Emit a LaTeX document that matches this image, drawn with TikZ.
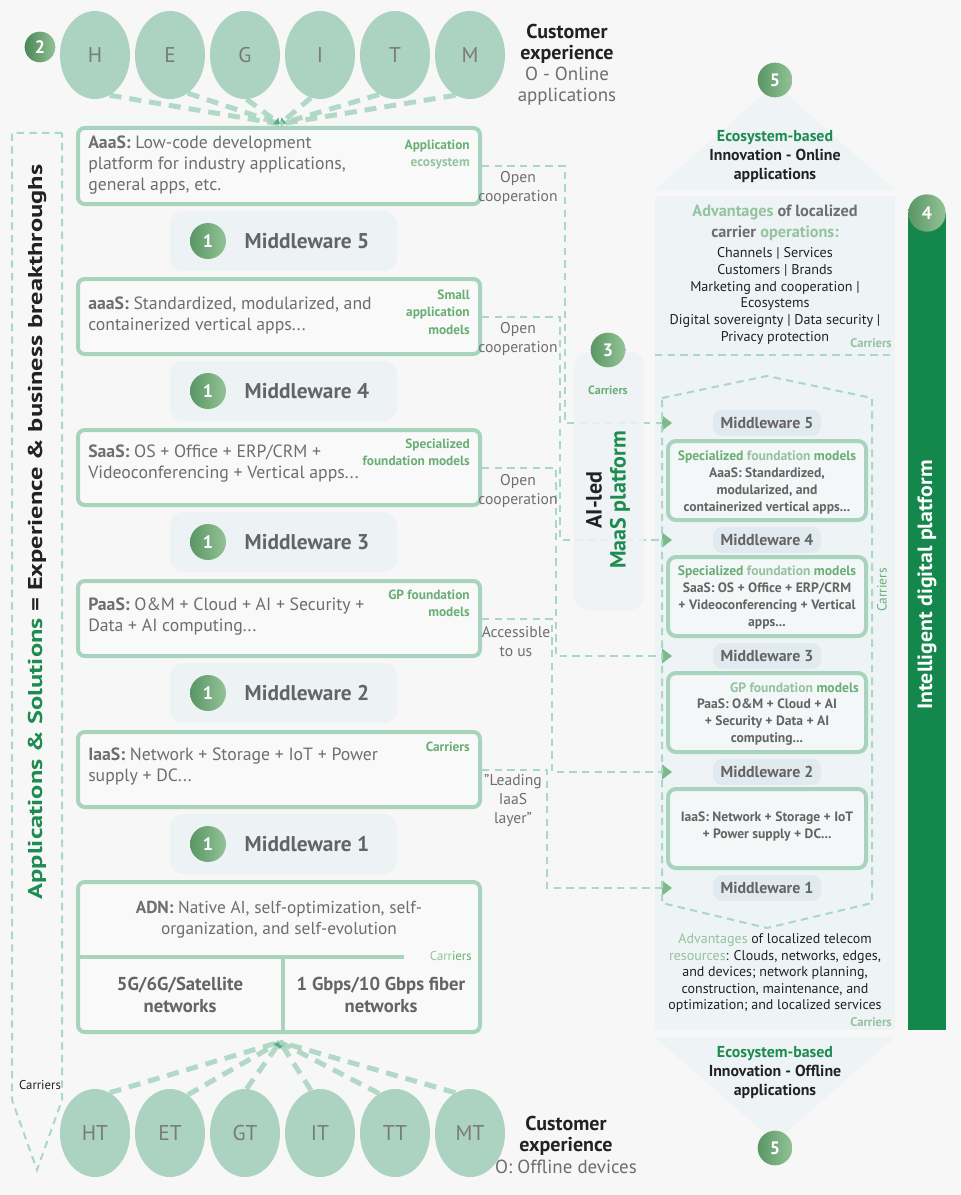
\documentclass[tikz,border=0pt]{standalone}
\usepackage{fontspec}
\setmainfont{PT Sans}
\usetikzlibrary{fit,arrows.meta,shapes.geometric,calc}
\definecolor{bgc}{HTML}{F7F7F7}
\definecolor{boxg}{HTML}{A8D4BE}
\definecolor{boxf}{HTML}{F9F9F9}
\definecolor{rboxf}{HTML}{F4F7F8}
\definecolor{circg}{HTML}{ACD3C1}
\definecolor{lettc}{HTML}{7A7A7A}
\definecolor{dashc}{HTML}{A9D8C3}
\definecolor{fanc}{HTML}{A6D4BF}
\definecolor{fand}{HTML}{4FA77A}
\definecolor{mwbg}{HTML}{EDF3F5}
\definecolor{panel}{HTML}{EEF3F6}
\definecolor{rmwbg}{HTML}{E1EAEE}
\definecolor{numA}{HTML}{93C397}
\definecolor{numB}{HTML}{5A9664}
\definecolor{numC}{HTML}{4A8656}
\definecolor{tgray}{HTML}{6E6E6E}
\definecolor{tbold}{HTML}{646464}
\definecolor{gA}{HTML}{6AAE75}
\definecolor{gB}{HTML}{94C39E}
\definecolor{brg}{HTML}{1E8C50}
\definecolor{barg}{HTML}{14874D}
\definecolor{arrg}{HTML}{7DB98A}
\definecolor{ink}{HTML}{222222}
\begin{document}
\begin{tikzpicture}[x=0.75pt,y=-0.75pt,
 lbox/.style={draw=boxg, line width=3pt, rounded corners=5pt, fill=boxf, inner sep=0pt},
 rbox/.style={draw=boxg, line width=3pt, rounded corners=6pt, fill=rboxf, inner sep=0pt},
 mwbox/.style={fill=mwbg, rounded corners=10pt, inner sep=0pt},
 numc/.style={circle, inner sep=0pt, minimum size=26pt, left color=numB, right color=numA, text=white, font=\bfseries\fontsize{13.5}{16}\selectfont},
 lett/.style={ellipse, fill=circg, minimum width=52.5pt, minimum height=66pt, inner sep=0pt, text=lettc, font=\fontsize{16}{18}\selectfont},
 mwtxt/.style={text=tbold, font=\bfseries\fontsize{16}{18}\selectfont, inner sep=0pt},
 rmw/.style={fill=rmwbg, rounded corners=7pt, minimum width=81pt, minimum height=19.5pt, inner sep=0pt, text=tbold, font=\bfseries\fontsize{11.9}{13}\selectfont},
 ltxt/.style={anchor=north west, inner sep=0pt, align=left, text=tgray, font=\fontsize{13.3}{15.75}\selectfont},
 glab/.style={anchor=north east, inner sep=0pt, align=right, text=gA, font=\bfseries\fontsize{10}{12.9}\selectfont},
 rtxt/.style={inner sep=0pt, align=center, text=tbold, font=\bfseries\fontsize{10.2}{12.75}\selectfont},
 clab/.style={inner sep=0pt, align=center, text=tgray, font=\fontsize{11.7}{14.25}\selectfont},
 dsh/.style={draw=dashc, line width=1.5pt, dash pattern=on 5.5pt off 4pt},
 conn/.style={dsh, -{Triangle[length=7.5pt,width=11pt,color=arrg]}},
 fan/.style={draw=fanc, line width=3.75pt, dash pattern=on 9pt off 6pt, opacity=0.85},
 fantip/.style={fan, -{Triangle[length=4pt,width=6pt,color=fand]}},
 small/.style={inner sep=0pt, font=\fontsize{9.6}{11}\selectfont}
]
\fill[bgc] (0,0) rectangle (960,1195);
\useasboundingbox (0,0) rectangle (960,1195);

% ---------- right panel backgrounds
\fill[panel] (655,190) -- (775,84) -- (895,190) -- cycle;
\fill[panel] (655,196) rectangle (895,1030);
\fill[panel] (655,1037) -- (895,1037) -- (775,1142) -- cycle;

% ---------- top customer circles
\node[numc, left color=numC, right color=numA, minimum size=23pt] (two) at (40,47) {2};
\node[lett] (H) at (95,55) {H};
\node[lett] (E) at (170,55) {E};
\node[lett] (G) at (245,55) {G};
\node[lett] (I) at (320,55) {I};
\node[lett] (T) at (395,55) {T};
\node[lett] (M) at (470,55) {M};
\node[inner sep=0pt, align=center, font=\bfseries\fontsize{15}{15.75}\selectfont, text=ink] (cexp1) at (567,44) {Customer\\experience};
\node[inner sep=0pt, align=center, font=\fontsize{14.2}{16.25}\selectfont, text=tgray] (onl) at (567,86) {O - Online\\applications};
\coordinate (ftop) at (280,124);
\draw[fan] (H.290) -- (ftop);
\draw[fan] (E.295) -- (ftop);
\draw[fantip] (G.272) -- (ftop);
\draw[fantip] (I.258) -- (ftop);
\draw[fan] (T.248) -- (ftop);
\draw[fan] (M.250) -- (ftop);

% ---------- left dashed arrow
\draw[dsh] (62,133) -- (12,133) -- (12,1100) -- (37,1170) -- (62,1100) -- cycle;
\node[rotate=90, inner sep=0pt, text=ink, font=\bfseries\fontsize{15}{17}\selectfont] (appsol) at (37,532)
 {\resizebox{551pt}{\height}{{\color{brg}Applications \& Solutions} = Experience \& business breakthroughs}};
\node[small, text=ink] (carL) at (40,1085) {Carriers};

% ---------- left stack
\node[lbox, fit={(78,128) (480,204)}] (aaas) {};
\node[ltxt] (aaast) at (88,136) {\textbf{AaaS:} Low-code development\\platform for industry applications,\\general apps, etc.};
\node[glab] (aaasl) at (470,140) {Application\\{\color{gB}ecosystem}};

\node[lbox, fit={(78,279) (480,354)}] (aaasb) {};
\node[ltxt] (aaasbt) at (88,297) {\textbf{aaaS:} Standardized, modularized, and\\containerized vertical apps...};
\node[glab] (aaasbl) at (470,290) {Small\\application\\models};

\node[lbox, fit={(78,430) (480,505)}] (saas) {};
\node[ltxt] (saast) at (88,445) {\textbf{SaaS:} OS + Office + ERP/CRM +\\Videoconferencing + Vertical apps...};
\node[glab] (saasl) at (470,439) {Specialized\\foundation models};

\node[lbox, fit={(78,581) (480,656)}] (paas) {};
\node[ltxt] (paast) at (88,598) {\textbf{PaaS:} O\&M + Cloud + AI + Security +\\Data + AI computing...};
\node[glab] (paasl) at (470,590) {GP foundation\\models};

\node[lbox, fit={(78,732) (480,807)}] (iaas) {};
\node[ltxt] (iaast) at (88,748) {\textbf{IaaS:} Network + Storage + IoT + Power\\supply + DC...};
\node[glab] (iaasl) at (470,742) {Carriers};

\foreach \n/\y in {5/241,4/391,3/542,2/693,1/844}{
  \node[mwbox, fit={(170,\y-30) (397,\y+30)}] (mw\n) {};
  \node[numc, minimum size=27pt] (one\n) at (208,\y) {1};
  \node[mwtxt] (mwt\n) at (307,\y) {Middleware \n};
}

% ADN box
\node[lbox, fit={(78,882) (480,1032)}] (adn) {};
\draw[draw=boxg, line width=3pt] (78,957) -- (404,957);
\draw[draw=boxg, line width=3pt] (283,957) -- (283,1032);
\node[inner sep=0pt, align=center, text=tgray, font=\fontsize{13}{15.75}\selectfont] (adnt) at (279,920) {\textbf{ADN:} Native AI, self-optimization, self-\\organization, and self-evolution};
\node[small, anchor=east, text=gA] (adnc) at (472,956) {{\color{gB}Carr}iers};
\node[inner sep=0pt, align=center, text=tbold, font=\bfseries\fontsize{14}{16.5}\selectfont] (net5g) at (180,995) {5G/6G/Satellite\\networks};
\node[inner sep=0pt, align=center, text=tbold, font=\bfseries\fontsize{14}{16.5}\selectfont] (netfb) at (381,995) {1 Gbps/10 Gbps fiber\\networks};

% ---------- bottom customer circles
\node[lett] (HT) at (95,1133) {HT};
\node[lett] (ET) at (170,1133) {ET};
\node[lett] (GT) at (245,1133) {GT};
\node[lett] (IT) at (320,1133) {IT};
\node[lett] (TT) at (395,1133) {TT};
\node[lett] (MT) at (470,1133) {MT};
\coordinate (fbot) at (280,1042);
\draw[fan] (HT.70) -- (fbot);
\draw[fan] (ET.65) -- (fbot);
\draw[fantip] (GT.88) -- (fbot);
\draw[fantip] (IT.102) -- (fbot);
\draw[fan] (TT.112) -- (fbot);
\draw[fan] (MT.110) -- (fbot);
\node[inner sep=0pt, align=center, font=\bfseries\fontsize{15}{15.5}\selectfont, text=ink] (cexp2) at (566,1136) {Customer\\experience};
\node[inner sep=0pt, font=\fontsize{14.2}{15.5}\selectfont, text=tgray] (offl) at (566,1167) {O: Offline devices};

% ---------- connectors to the right stack
\coordinate (k5) at (565,423); \coordinate (t5) at (672,423);
\coordinate (k4) at (560,540); \coordinate (t4) at (672,540);
\coordinate (k3) at (556,656); \coordinate (t3) at (672,656);
\coordinate (k2) at (552,772); \coordinate (t2) at (672,772);
\coordinate (k1) at (547,888); \coordinate (t1) at (672,888);
\draw[conn] (aaas.east) -| (k5) -- (t5);
\draw[conn] (aaasb.east) -| (k4) -- (t4);
\draw[conn] (saas.east) -| (k3) -- (t3);
\draw[conn] (paas.east) -| (k2) -- (t2);
\draw[conn] (iaas.east) -| (k1) -- (t1);
\node[clab] (oc1) at (518,188) {Open\\cooperation};
\node[clab] (oc2) at (518,339) {Open\\cooperation};
\node[clab] (oc3) at (518,491) {Open\\cooperation};
\node[clab] (acc) at (516,642) {Accessible\\to us};
\node[clab] (lead) at (513,801) {"Leading\\IaaS\\layer"};

% ---------- centre column
\fill[panel, opacity=0.85, rounded corners=10pt] (574,352) rectangle (644,610);
\node[numc] (three) at (608,350) {3};
\node[small, text=gA, font=\bfseries\fontsize{9}{10}\selectfont] (car3) at (608,390) {Carriers};
\node[rotate=90, inner sep=0pt, align=center, text=ink, font=\bfseries\fontsize{16.5}{18}\selectfont] (maas) at (608,500) {AI-led\\{\color{brg}MaaS platform}};

% ---------- right panel contents
\node[numc] (fiveT) at (775,80) {5};
\node[numc] (fiveB) at (775,1148) {5};
\node[inner sep=0pt, align=center, text=ink, font=\bfseries\fontsize{11.9}{14.25}\selectfont] (ecoT) at (775,157) {{\color{brg}Ecosystem-based}\\Innovation - Online\\applications};
\node[inner sep=0pt, align=center, text=ink, font=\bfseries\fontsize{11.9}{14.25}\selectfont] (ecoB) at (775,1073) {{\color{brg}Ecosystem-based}\\Innovation - Offline\\applications};
\node[inner sep=0pt, align=center, text=tgray, font=\bfseries\fontsize{12.2}{15.75}\selectfont] (advT) at (775,223) {{\color{gB}Advantages} of localized\\carrier {\color{gB}operations:}};
\node[inner sep=0pt, align=center, text=ink, font=\fontsize{10.6}{12.6}\selectfont] (advL) at (775,296) {Channels | Services\\Customers | Brands\\Marketing and cooperation |\\Ecosystems\\Digital sovereignty | Data security |\\Privacy protection};
\node[small, anchor=east, text=gB, font=\bfseries\fontsize{9.4}{10}\selectfont] (carT) at (892,343) {Carriers};
\draw[dsh] (655,355) -- (895,355);

\draw[dsh] (662,398) -- (767,376) -- (872,398) -- (872,903) -- (767,928) -- (662,903) -- cycle;
\node[small, rotate=90, text=gA, font=\fontsize{10}{11}\selectfont] (carV) at (882,590) {Carriers};

\node[rmw] (rmw5) at (767,423) {Middleware 5};
\node[rmw] (rmw4) at (767,540) {Middleware 4};
\node[rmw] (rmw3) at (767,656) {Middleware 3};
\node[rmw] (rmw2) at (767,772) {Middleware 2};
\node[rmw] (rmw1) at (767,888) {Middleware 1};

\node[rbox, fit={(668,441) (866,520)}] (rb1) {};
\node[rtxt] (rb1t) at (767,482) {{\color{gA}Specialized} {\color{gB}foundation} {\color{gA}models}\\AaaS: Standardized,\\modularized, and\\containerized vertical apps...};
\node[rbox, fit={(668,557) (866,636)}] (rb2) {};
\node[rtxt] (rb2t) at (767,597) {{\color{gA}Specialized} {\color{gB}foundation} {\color{gA}models}\\SaaS: OS + Office + ERP/CRM\\+ Videoconferencing + Vertical\\apps...};
\node[rbox, fit={(668,673) (866,752)}] (rb3) {};
\node[rtxt, anchor=east] (rb3h) at (859,688) {{\color{gB}GP foundation} {\color{gA}models}};
\node[rtxt] (rb3t) at (767,722) {PaaS: O\&M + Cloud + AI\\+ Security + Data + AI\\computing...};
\node[rbox, fit={(668,789) (866,868)}] (rb4) {};
\node[rtxt] (rb4t) at (767,827) {IaaS: Network + Storage + IoT\\+ Power supply + DC...};

\node[inner sep=0pt, align=center, text=ink, font=\fontsize{10.5}{12.4}\selectfont] (advB) at (775,973) {{\color{gB}Advantages} of localized telecom\\{\color{gB}resources}: Clouds, networks, edges,\\and devices; network planning,\\construction, maintenance, and\\optimization; and localized services};
\node[small, anchor=east, text=gB, font=\bfseries\fontsize{9.4}{10}\selectfont] (carB) at (892,1022) {Carriers};

% ---------- green bar
\fill[barg] (908,213) rectangle (946,1030);
\node[numc, minimum size=28pt] (four) at (927,213) {4};
\node[rotate=90, inner sep=0pt, text=white, font=\bfseries\fontsize{15.5}{18}\selectfont] (idp) at (927,585) {\resizebox{187pt}{\height}{Intelligent digital platform}};
\end{tikzpicture}
\end{document}
